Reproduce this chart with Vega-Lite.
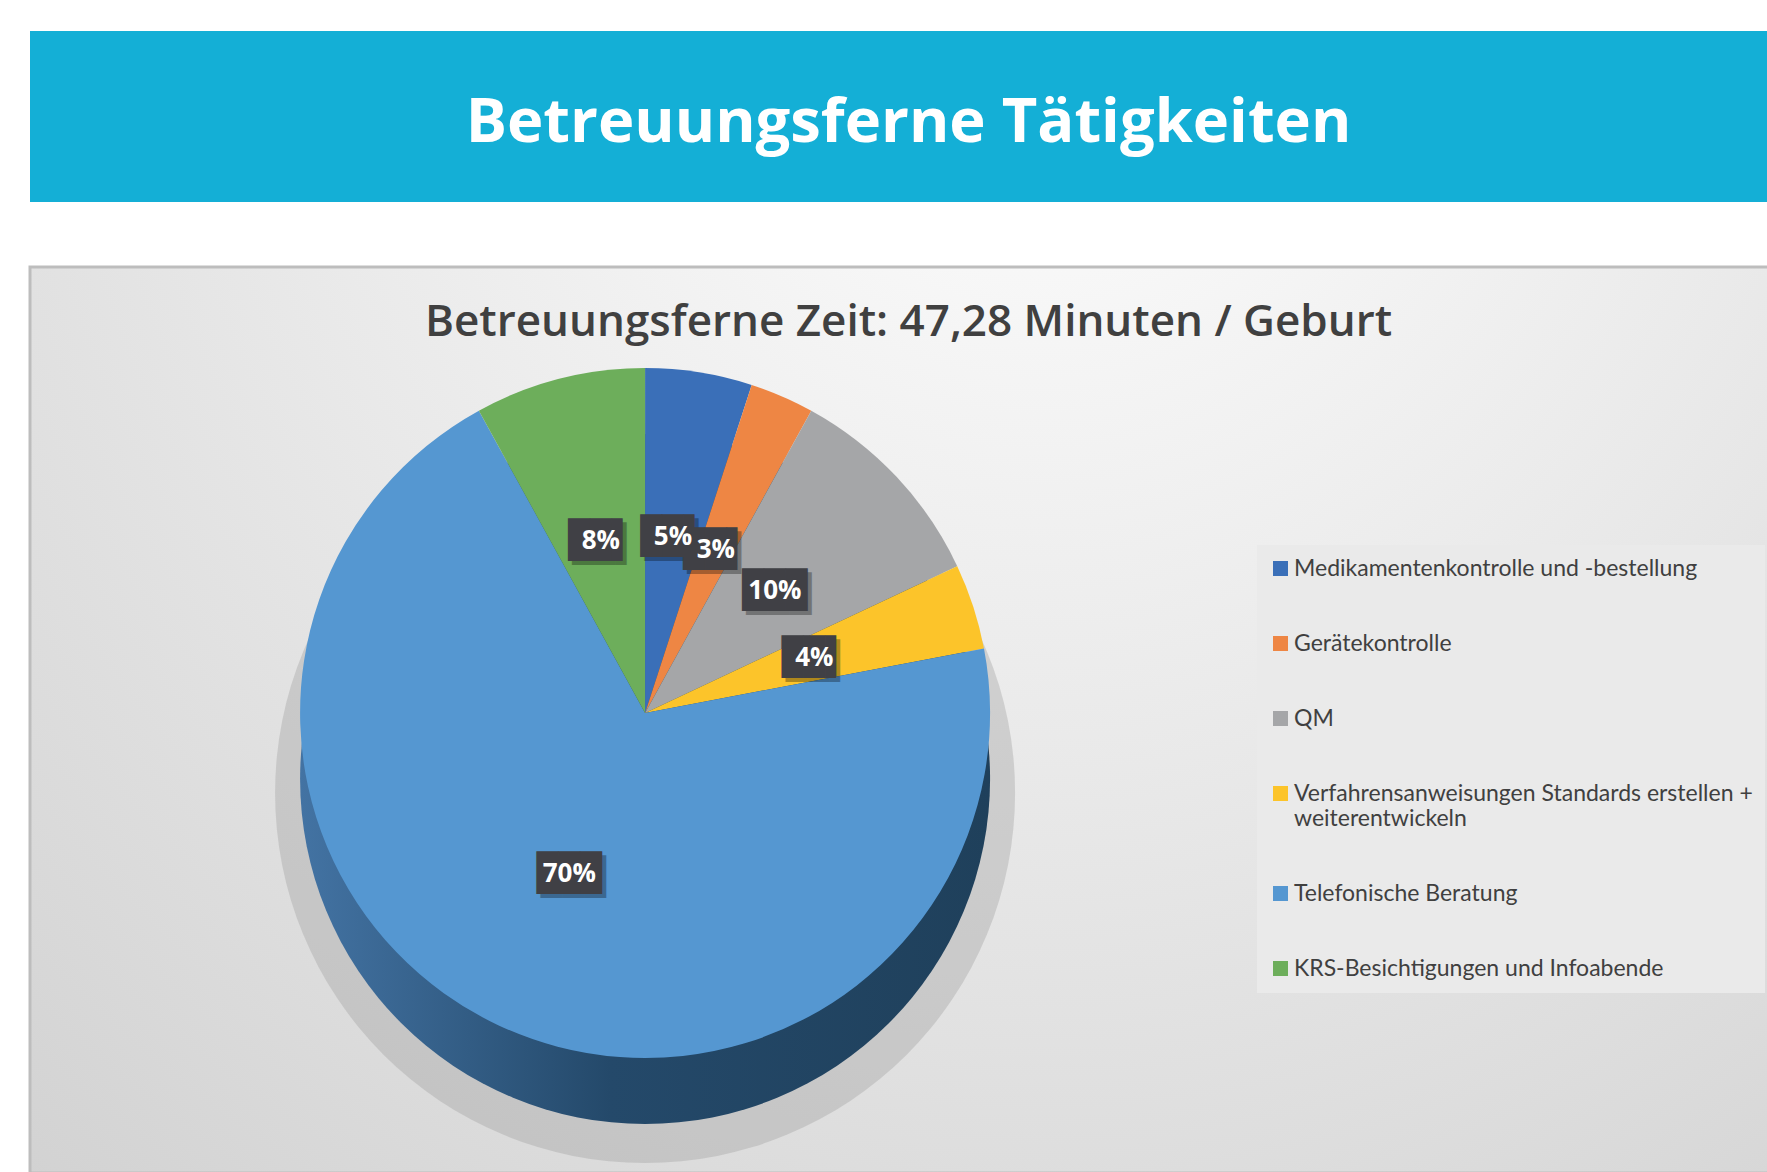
{
  "$schema": "https://vega.github.io/schema/vega-lite/v6.json",
  "padding": {"left": 28, "top": 31, "right": 0, "bottom": 0},
  "background": "white",
  "spacing": 63,
  "config": {"view": {"stroke": null}},
  "datasets": {
    "slices": [
      {"idx": 1, "kategorie": "Medikamentenkontrolle und -bestellung", "share": 0.05},
      {"idx": 2, "kategorie": "Gerätekontrolle", "share": 0.03},
      {"idx": 3, "kategorie": "QM", "share": 0.10},
      {"idx": 4, "kategorie": "Verfahrensanweisungen Standards erstellen + weiterentwickeln", "share": 0.04},
      {"idx": 5, "kategorie": "Telefonische Beratung", "share": 0.70},
      {"idx": 6, "kategorie": "KRS-Besichtigungen und Infoabende", "share": 0.08}
    ],
    "disk": [{"idx": 0, "share": 1}]
  },
  "vconcat": [
    {
      "width": 1739,
      "height": 171,
      "view": {"fill": "#14AFD6", "stroke": null},
      "data": {"values": [{"t": "Betreuungsferne Tätigkeiten"}]},
      "mark": {"type": "text", "font": "Open Sans", "fontWeight": "bold", "fontSize": 61.5, "color": "white", "baseline": "middle", "dx": 9, "dy": 7},
      "encoding": {"text": {"field": "t"}}
    },
    {
      "width": 1739,
      "height": 906,
      "view": {
        "fill": {"gradient": "radial", "x1": 0.58, "y1": 0.08, "r1": 0, "x2": 0.58, "y2": 0.08, "r2": 0.9,
          "stops": [{"offset": 0, "color": "#FFFFFF"}, {"offset": 0.5, "color": "#E9E9E9"}, {"offset": 1, "color": "#D2D2D2"}]},
        "stroke": "#BDBDBD",
        "strokeWidth": 3
      },
      "title": {
        "text": "Betreuungsferne Zeit: 47,28 Minuten / Geburt",
        "font": "Open Sans", "fontWeight": 600, "fontSize": 44, "color": "#404040",
        "anchor": "middle", "frame": "group", "offset": -113, "baseline": "alphabetic", "dx": 9
      },
      "encoding": {
        "x": {"datum": 0.3537, "type": "quantitative", "scale": {"domain": [0, 1]}, "axis": null},
        "y": {"datum": 0.4923, "type": "quantitative", "scale": {"domain": [0, 1], "reverse": true}, "axis": null},
        "theta": {"field": "share", "type": "quantitative", "stack": true},
        "order": {"field": "idx", "type": "quantitative"}
      },
      "layer": [
        {
          "data": {"name": "disk"},
          "mark": {"type": "arc", "radius": 370, "yOffset": 80, "color": "#9A9A9A", "opacity": 0.35, "strokeWidth": 0}
        },
        {
          "data": {"name": "disk"},
          "mark": {"type": "arc", "radius": 345, "yOffset": 66, "strokeWidth": 0,
            "color": {"gradient": "linear", "x1": 0, "y1": 0, "x2": 1, "y2": 0,
              "stops": [{"offset": 0, "color": "#4373A3"}, {"offset": 0.45, "color": "#24496A"}, {"offset": 1, "color": "#1F405B"}]}}
        },
        {
          "data": {"name": "slices"},
          "mark": {"type": "arc", "radius": 345, "strokeWidth": 0},
          "encoding": {
            "color": {
              "field": "kategorie", "type": "nominal",
              "scale": {
                "domain": ["Medikamentenkontrolle und -bestellung", "Gerätekontrolle", "QM", "Verfahrensanweisungen Standards erstellen + weiterentwickeln", "Telefonische Beratung", "KRS-Besichtigungen und Infoabende"],
                "range": ["#3A6FB8", "#EE8644", "#A5A6A8", "#FCC42A", "#5597D1", "#6DAE5B"]
              },
              "legend": {
                "orient": "none", "legendX": 1227, "legendY": 514, "title": null,
                "fillColor": "#EAEAEA", "padding": 12,
                "symbolType": "square", "symbolSize": 225, "symbolStrokeWidth": 0,
                "labelFont": "Lato", "labelFontSize": 23, "labelColor": "#404040", "labelOffset": 2,
                "rowPadding": 51, "labelLimit": 520,
                "labelExpr": "datum.label == 'Verfahrensanweisungen Standards erstellen + weiterentwickeln' ? ['Verfahrensanweisungen Standards erstellen +', 'weiterentwickeln'] : datum.label"
              }
            }
          }
        },
        {
          "data": {"name": "slices"},
          "mark": {"type": "text", "radius": 178, "font": "DejaVu Sans Mono", "fontSize": 36, "color": "#000000", "opacity": 0.3, "baseline": "middle", "dx": 4, "dy": 4},
          "encoding": {"text": {"condition": {"test": "datum.share >= 0.1", "value": "███"}, "value": "██▌"}}
        },
        {
          "data": {"name": "slices"},
          "mark": {"type": "text", "radius": 178, "font": "DejaVu Sans Mono", "fontSize": 36, "color": "#404045", "baseline": "middle"},
          "encoding": {"text": {"condition": {"test": "datum.share >= 0.1", "value": "███"}, "value": "██▌"}}
        },
        {
          "data": {"name": "slices"},
          "mark": {"type": "text", "radius": 178, "font": "Open Sans", "fontWeight": "bold", "fontSize": 26, "color": "#FFFFFF", "baseline": "middle"},
          "encoding": {"text": {"field": "share", "type": "quantitative", "format": ".0%"}}
        }
      ]
    }
  ]
}
